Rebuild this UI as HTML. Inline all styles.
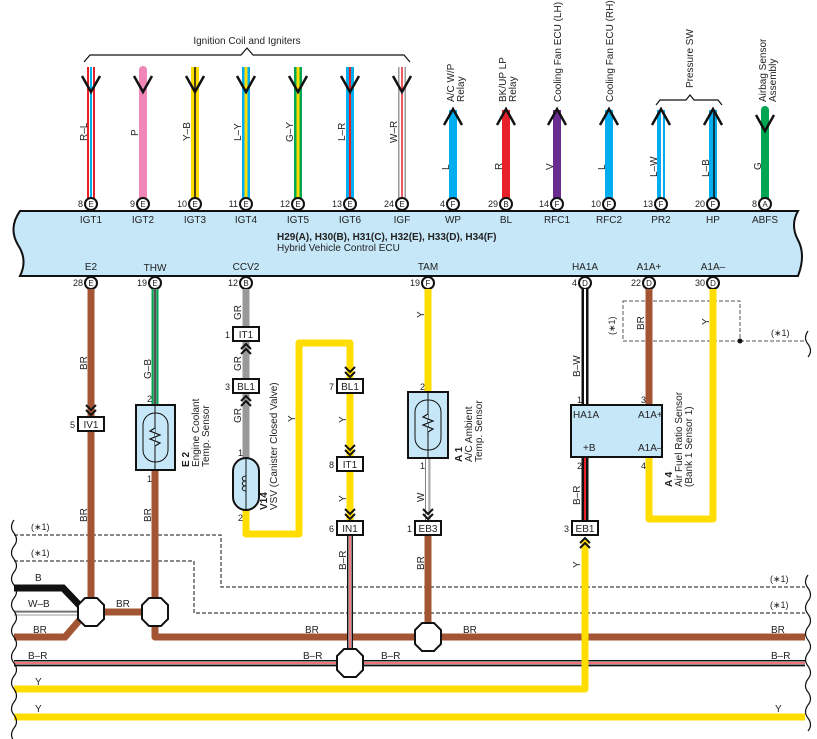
<!DOCTYPE html>
<html><head><meta charset="utf-8"><style>
html,body{margin:0;padding:0;background:#fff;}
svg{display:block;font-family:"Liberation Sans",Arial,sans-serif;}
text{fill:#222;}
</style></head><body>
<svg width="817" height="739" viewBox="0 0 817 739" xmlns="http://www.w3.org/2000/svg">
<defs>
<g id="chevD"><polyline points="-5,-6 0,-1 5,-6" fill="none" stroke="#111" stroke-width="2"/><polyline points="-5,-1 0,4 5,-1" fill="none" stroke="#111" stroke-width="2"/></g>
<g id="chevU"><polyline points="-5,6 0,1 5,6" fill="none" stroke="#111" stroke-width="2"/><polyline points="-5,1 0,-4 5,1" fill="none" stroke="#111" stroke-width="2"/></g>
<polygon id="oct" points="-6,-14 6,-14 13,-7 13,7 6,14 -6,14 -13,7 -13,-7" fill="#fff" stroke="#111" stroke-width="2"/>
</defs>

<text x="247" y="44" font-size="10" text-anchor="middle">Ignition Coil and Igniters</text>
<path d="M84,62 L90,55 L241,55 L247,48 L253,55 L404,55 L410,62" fill="none" stroke="#111" stroke-width="1.2"/>

<g>
<line x1="91" y1="67" x2="91" y2="198" stroke="#e8202a" stroke-width="8"/>
<line x1="91" y1="67" x2="91" y2="198" stroke="#fff" stroke-width="4"/>
<line x1="91" y1="67" x2="91" y2="198" stroke="#00aeef" stroke-width="2"/>
<line x1="143" y1="70" x2="143" y2="198" stroke="#ef86b6" stroke-width="8" stroke-linecap="round"/>
<line x1="195" y1="67" x2="195" y2="198" stroke="#ffdd00" stroke-width="8"/>
<line x1="195" y1="67" x2="195" y2="198" stroke="#111" stroke-width="1.5"/>
<line x1="246" y1="67" x2="246" y2="198" stroke="#00aeef" stroke-width="8"/>
<line x1="246" y1="67" x2="246" y2="198" stroke="#ffdd00" stroke-width="3"/>
<line x1="298" y1="67" x2="298" y2="198" stroke="#00a651" stroke-width="8"/>
<line x1="298" y1="67" x2="298" y2="198" stroke="#ffdd00" stroke-width="3"/>
<line x1="350" y1="67" x2="350" y2="198" stroke="#00aeef" stroke-width="8"/>
<line x1="350" y1="67" x2="350" y2="198" stroke="#e8202a" stroke-width="2"/>
<line x1="402" y1="67" x2="402" y2="198" stroke="#999" stroke-width="8"/>
<line x1="402" y1="67" x2="402" y2="198" stroke="#fff" stroke-width="5"/>
<line x1="402" y1="67" x2="402" y2="198" stroke="#e8202a" stroke-width="1.5"/>
</g>
<g fill="none" stroke="#111" stroke-width="2.5">
<polyline points="82,76 91,92 100,76"/><polyline points="134,76 143,92 152,76"/><polyline points="186,76 195,92 204,76"/>
<polyline points="237,76 246,92 255,76"/><polyline points="289,76 298,92 307,76"/><polyline points="341,76 350,92 359,76"/>
<polyline points="393,76 402,92 411,76"/>
</g>
<g font-size="10">
<text transform="translate(87,141) rotate(-90)">R–L</text>
<text transform="translate(138,136) rotate(-90)">P</text>
<text transform="translate(190,141) rotate(-90)">Y–B</text>
<text transform="translate(241,141) rotate(-90)">L–Y</text>
<text transform="translate(293,142) rotate(-90)">G–Y</text>
<text transform="translate(345,141) rotate(-90)">L–R</text>
<text transform="translate(397,143) rotate(-90)">W–R</text>
</g>

<line x1="453" y1="110" x2="453" y2="198" stroke="#00aeef" stroke-width="8"/>
<line x1="506" y1="110" x2="506" y2="198" stroke="#e8202a" stroke-width="8"/>
<line x1="557" y1="110" x2="557" y2="198" stroke="#6a2c91" stroke-width="8"/>
<line x1="609" y1="110" x2="609" y2="198" stroke="#00aeef" stroke-width="8"/>
<line x1="661" y1="110" x2="661" y2="198" stroke="#00aeef" stroke-width="8"/>
<line x1="662" y1="110" x2="662" y2="198" stroke="#fff" stroke-width="2"/>
<line x1="713" y1="110" x2="713" y2="198" stroke="#00aeef" stroke-width="8"/>
<line x1="714" y1="110" x2="714" y2="198" stroke="#111" stroke-width="1.5"/>
<line x1="765" y1="110" x2="765" y2="198" stroke="#00a651" stroke-width="8" stroke-linecap="round"/>
<g fill="none" stroke="#111" stroke-width="2.5">
<polyline points="444,125 453,109 462,125"/><polyline points="497,125 506,109 515,125"/><polyline points="548,125 557,109 566,125"/>
<polyline points="600,125 609,109 618,125"/><polyline points="652,125 661,109 670,125"/><polyline points="704,125 713,109 722,125"/>
<polyline points="756,115 765,131 774,115"/>
</g>
<path d="M656,105 L660,100 L686,100 L690,95 L694,100 L718,100 L722,105" fill="none" stroke="#111" stroke-width="1.2"/>
<g font-size="10">
<text transform="translate(449,170) rotate(-90)">L</text>
<text transform="translate(502,170) rotate(-90)">R</text>
<text transform="translate(553,170) rotate(-90)">V</text>
<text transform="translate(605,170) rotate(-90)">L</text>
<text transform="translate(657,177) rotate(-90)">L–W</text>
<text transform="translate(709,177) rotate(-90)">L–B</text>
<text transform="translate(761,170) rotate(-90)">G</text>
<text transform="translate(454,102) rotate(-90)">A/C W/P</text>
<text transform="translate(464,102) rotate(-90)">Relay</text>
<text transform="translate(506,102) rotate(-90)">BK/UP LP</text>
<text transform="translate(516,102) rotate(-90)">Relay</text>
<text transform="translate(561,102) rotate(-90)">Cooling Fan ECU (LH)</text>
<text transform="translate(613,102) rotate(-90)">Cooling Fan ECU (RH)</text>
<text transform="translate(693,88) rotate(-90)">Pressure SW</text>
<text transform="translate(766,102) rotate(-90)">Airbag Sensor</text>
<text transform="translate(776,102) rotate(-90)">Assembly</text>
</g>

<path d="M20,211 L798,211 Q790,225 798,240 Q806,255 798,276 L20,276 Q28,260 18,245 Q8,228 20,211 Z" fill="#c6e7f8" stroke="#111" stroke-width="2"/>
<g font-size="10" text-anchor="middle">
<text x="91" y="223">IGT1</text><text x="143" y="223">IGT2</text><text x="195" y="223">IGT3</text><text x="246" y="223">IGT4</text>
<text x="298" y="223">IGT5</text><text x="350" y="223">IGT6</text><text x="402" y="223">IGF</text><text x="453" y="223">WP</text>
<text x="506" y="223">BL</text><text x="557" y="223">RFC1</text><text x="609" y="223">RFC2</text><text x="661" y="223">PR2</text>
<text x="713" y="223">HP</text><text x="765" y="223">ABFS</text>
<text x="91" y="270">E2</text><text x="155" y="271">THW</text><text x="246" y="270">CCV2</text><text x="428" y="270">TAM</text>
<text x="585" y="270">HA1A</text><text x="649" y="270">A1A+</text><text x="713" y="270">A1A–</text>
</g>
<text x="277" y="240" font-size="10" font-weight="bold">H29(A), H30(B), H31(C), H32(E), H33(D), H34(F)</text>
<text x="277" y="251" font-size="10">Hybrid Vehicle Control ECU</text>

<g font-size="9">
<g stroke="#111" stroke-width="2" fill="#fff">
<circle cx="91" cy="204" r="6"/><circle cx="143" cy="204" r="6"/><circle cx="195" cy="204" r="6"/><circle cx="246" cy="204" r="6"/>
<circle cx="298" cy="204" r="6"/><circle cx="350" cy="204" r="6"/><circle cx="402" cy="204" r="6"/><circle cx="453" cy="204" r="6"/>
<circle cx="506" cy="204" r="6"/><circle cx="557" cy="204" r="6"/><circle cx="609" cy="204" r="6"/><circle cx="661" cy="204" r="6"/>
<circle cx="713" cy="204" r="6"/><circle cx="765" cy="204" r="6"/>
<circle cx="91" cy="283" r="6"/><circle cx="155" cy="283" r="6"/><circle cx="246" cy="283" r="6"/><circle cx="428" cy="283" r="6"/>
<circle cx="585" cy="283" r="6"/><circle cx="649" cy="283" r="6"/><circle cx="713" cy="283" r="6"/>
</g>
<g text-anchor="middle" font-size="8">
<text x="91" y="207">E</text><text x="143" y="207">E</text><text x="195" y="207">E</text><text x="246" y="207">E</text>
<text x="298" y="207">E</text><text x="350" y="207">E</text><text x="402" y="207">E</text><text x="453" y="207">F</text>
<text x="506" y="207">B</text><text x="557" y="207">F</text><text x="609" y="207">F</text><text x="661" y="207">F</text>
<text x="713" y="207">F</text><text x="765" y="207">A</text>
<text x="91" y="286">E</text><text x="155" y="286">E</text><text x="246" y="286">B</text><text x="428" y="286">F</text>
<text x="585" y="286">D</text><text x="649" y="286">D</text><text x="713" y="286">D</text>
</g>
<g text-anchor="end">
<text x="83" y="207">8</text><text x="135" y="207">9</text><text x="187" y="207">10</text><text x="238" y="207">11</text>
<text x="290" y="207">12</text><text x="342" y="207">13</text><text x="394" y="207">24</text><text x="445" y="207">4</text>
<text x="498" y="207">29</text><text x="549" y="207">14</text><text x="601" y="207">10</text><text x="653" y="207">13</text>
<text x="705" y="207">20</text><text x="757" y="207">8</text>
<text x="83" y="286">28</text><text x="147" y="286">19</text><text x="238" y="286">12</text><text x="420" y="286">19</text>
<text x="577" y="286">4</text><text x="641" y="286">22</text><text x="705" y="286">30</text>
</g>
</g>

<g fill="none" stroke="#111" stroke-width="1" stroke-dasharray="4,2">
<rect x="623" y="301" width="117" height="40" stroke="#555"/>
<line x1="740" y1="341" x2="805" y2="341" stroke="#555"/>
<polyline points="14,535 221,535 221,587 805,587"/>
<polyline points="14,561 194,561 194,613 805,613"/>
</g>
<circle cx="740" cy="341" r="2.5" fill="#111"/>
<g font-size="9" fill="#444">
<text x="31" y="530">(∗1)</text><text x="31" y="556">(∗1)</text>
<text x="770" y="582">(∗1)</text><text x="770" y="608">(∗1)</text>
<text x="771" y="336">(∗1)</text>
<text transform="translate(615,335) rotate(-90)">(∗1)</text>
</g>

<line x1="91" y1="289" x2="91" y2="612" stroke="#a35432" stroke-width="7"/>
<line x1="155" y1="289" x2="155" y2="405" stroke="#00a651" stroke-width="7"/>
<line x1="155" y1="289" x2="155" y2="405" stroke="#999" stroke-width="3"/>
<line x1="155" y1="289" x2="155" y2="405" stroke="#111" stroke-width="1"/>
<polyline points="155,470 155,637 805,637" fill="none" stroke="#a35432" stroke-width="7" stroke-linejoin="round"/>
<polyline points="14,588 63,588 84,610" fill="none" stroke="#111" stroke-width="7"/>
<line x1="14" y1="613" x2="80" y2="613" stroke="#999" stroke-width="5"/>
<line x1="14" y1="613" x2="80" y2="613" stroke="#fff" stroke-width="3"/>
<line x1="14" y1="612" x2="80" y2="612" stroke="#111" stroke-width="0.7"/>
<polyline points="14,637 65,637 84,615" fill="none" stroke="#a35432" stroke-width="7"/>
<line x1="91" y1="612" x2="155" y2="612" stroke="#a35432" stroke-width="7"/>
<line x1="14" y1="663" x2="805" y2="663" stroke="#111" stroke-width="6"/>
<line x1="14" y1="663" x2="805" y2="663" stroke="#fff" stroke-width="3"/>
<line x1="14" y1="663" x2="805" y2="663" stroke="#e8202a" stroke-width="1.2"/>
<line x1="14" y1="666.5" x2="805" y2="666.5" stroke="#aaa" stroke-width="1"/>
<polyline points="14,689 585,689 585,540" fill="none" stroke="#ffdd00" stroke-width="7" stroke-linejoin="round"/>
<line x1="14" y1="717" x2="805" y2="717" stroke="#ffdd00" stroke-width="7"/>

<line x1="246" y1="289" x2="246" y2="458" stroke="#999" stroke-width="7"/>
<polyline points="246,510 246,534 299,534 299,343 350,343 350,528" fill="none" stroke="#ffdd00" stroke-width="7" stroke-linejoin="round"/>
<line x1="350" y1="535" x2="350" y2="663" stroke="#111" stroke-width="6"/>
<line x1="350" y1="535" x2="350" y2="663" stroke="#fff" stroke-width="3"/>
<line x1="350" y1="535" x2="350" y2="663" stroke="#e8202a" stroke-width="1.2"/>
<line x1="428" y1="289" x2="428" y2="392" stroke="#ffdd00" stroke-width="7"/>
<line x1="428" y1="458" x2="428" y2="522" stroke="#aaa" stroke-width="5"/>
<line x1="427" y1="458" x2="427" y2="522" stroke="#fff" stroke-width="2.5"/>
<line x1="425.5" y1="458" x2="425.5" y2="522" stroke="#555" stroke-width="0.7"/>
<line x1="428" y1="535" x2="428" y2="637" stroke="#a35432" stroke-width="7"/>
<line x1="585" y1="289" x2="585" y2="405" stroke="#111" stroke-width="7"/>
<line x1="585" y1="289" x2="585" y2="405" stroke="#fff" stroke-width="2"/>
<line x1="585" y1="457" x2="585" y2="522" stroke="#111" stroke-width="7"/>
<line x1="585" y1="457" x2="585" y2="522" stroke="#e8202a" stroke-width="2"/>
<line x1="649" y1="289" x2="649" y2="405" stroke="#a35432" stroke-width="7"/>
<polyline points="713,289 713,519 649,519 649,457" fill="none" stroke="#ffdd00" stroke-width="7" stroke-linejoin="round"/>

<g stroke="#111" stroke-width="2" fill="#fff">
<rect x="78" y="417" width="26" height="14"/>
<rect x="233" y="327" width="26" height="14"/>
<rect x="233" y="379" width="26" height="14"/>
<rect x="337" y="379" width="26" height="14"/>
<rect x="337" y="457" width="26" height="14"/>
<rect x="337" y="521" width="26" height="14"/>
<rect x="415" y="521" width="26" height="14"/>
<rect x="572" y="521" width="26" height="14"/>
</g>
<g font-size="10" text-anchor="middle">
<text x="91" y="428">IV1</text><text x="246" y="338">IT1</text><text x="246" y="390">BL1</text>
<text x="350" y="390">BL1</text><text x="350" y="468">IT1</text><text x="350" y="532">IN1</text>
<text x="428" y="532">EB3</text><text x="585" y="532">EB1</text>
</g>
<g font-size="9" text-anchor="end">
<text x="75" y="428">5</text><text x="230" y="338">1</text><text x="230" y="390">3</text>
<text x="334" y="390">7</text><text x="334" y="468">8</text><text x="334" y="532">6</text>
<text x="412" y="532">1</text><text x="569" y="532">3</text>
</g>
<use href="#chevD" x="91" y="411"/>
<use href="#chevU" x="246" y="348"/>
<use href="#chevU" x="246" y="400"/>
<use href="#chevD" x="350" y="373"/>
<use href="#chevD" x="350" y="451"/>
<use href="#chevD" x="350" y="515"/>
<use href="#chevD" x="428" y="515"/>
<use href="#chevU" x="585" y="542"/>

<rect x="136" y="405" width="39" height="65" fill="#c6e7f8" stroke="#111" stroke-width="2"/>
<rect x="143" y="413" width="25" height="49" rx="12" fill="none" stroke="#111" stroke-width="1"/>
<line x1="155" y1="405" x2="155" y2="470" stroke="#111" stroke-width="1"/>
<polyline points="155,428 150,431 160,435 150,439 160,443 155,446" fill="#c6e7f8" stroke="#111" stroke-width="1.2"/>
<rect x="408" y="392" width="40" height="66" fill="#c6e7f8" stroke="#111" stroke-width="2"/>
<rect x="415" y="400" width="26" height="50" rx="12" fill="none" stroke="#111" stroke-width="1"/>
<line x1="428" y1="392" x2="428" y2="458" stroke="#111" stroke-width="1"/>
<polyline points="428,414 423,417 433,421 423,425 433,429 428,432" fill="#c6e7f8" stroke="#111" stroke-width="1.2"/>
<rect x="233" y="458" width="26" height="52" rx="13" fill="#c6e7f8" stroke="#111" stroke-width="2"/>
<line x1="246" y1="458" x2="246" y2="510" stroke="#111" stroke-width="1"/>
<path d="M246,476 c-5,0 -5,5 0,5 c-5,0 -5,5 0,5 c-5,0 -5,5 0,5" fill="none" stroke="#111" stroke-width="1"/>
<rect x="571" y="405" width="91" height="52" fill="#c6e7f8" stroke="#111" stroke-width="2"/>
<g font-size="10">
<text x="573" y="418">HA1A</text><text x="583" y="451">+B</text>
<text x="638" y="418">A1A+</text><text x="638" y="451">A1A–</text>
</g>

<g font-size="9" text-anchor="end">
<text x="152" y="402">2</text><text x="152" y="482">1</text>
<text x="243" y="456">1</text><text x="243" y="521">2</text>
<text x="425" y="390">2</text><text x="425" y="469">1</text>
<text x="582" y="403">1</text><text x="582" y="469">2</text>
<text x="646" y="403">3</text><text x="646" y="469">4</text>
</g>

<g font-size="10">
<text transform="translate(189,467) rotate(-90)" font-weight="bold">E 2</text>
<text transform="translate(199,467) rotate(-90)">Engine Coolant</text>
<text transform="translate(209,467) rotate(-90)">Temp.  Sensor</text>
<text transform="translate(267,510) rotate(-90)" font-weight="bold">V14</text>
<text transform="translate(277,510) rotate(-90)">VSV (Canister Closed Valve)</text>
<text transform="translate(462,462) rotate(-90)" font-weight="bold">A 1</text>
<text transform="translate(472,462) rotate(-90)">A/C Ambient</text>
<text transform="translate(482,462) rotate(-90)">Temp.  Sensor</text>
<text transform="translate(672,487) rotate(-90)" font-weight="bold">A 4</text>
<text transform="translate(682,487) rotate(-90)">Air Fuel Ratio Sensor</text>
<text transform="translate(692,487) rotate(-90)">(Bank 1 Sensor 1)</text>
</g>

<g font-size="10">
<text transform="translate(87,370) rotate(-90)">BR</text>
<text transform="translate(87,522) rotate(-90)">BR</text>
<text transform="translate(151,379) rotate(-90)">G–B</text>
<text transform="translate(151,522) rotate(-90)">BR</text>
<text transform="translate(241,320) rotate(-90)">GR</text>
<text transform="translate(241,371) rotate(-90)">GR</text>
<text transform="translate(241,423) rotate(-90)">GR</text>
<text transform="translate(295,422) rotate(-90)">Y</text>
<text transform="translate(346,423) rotate(-90)">Y</text>
<text transform="translate(346,502) rotate(-90)">Y</text>
<text transform="translate(346,570) rotate(-90)">B–R</text>
<text transform="translate(424,318) rotate(-90)">Y</text>
<text transform="translate(424,502) rotate(-90)">W</text>
<text transform="translate(424,570) rotate(-90)">BR</text>
<text transform="translate(580,377) rotate(-90)">B–W</text>
<text transform="translate(580,505) rotate(-90)">B–R</text>
<text transform="translate(580,568) rotate(-90)">Y</text>
<text transform="translate(644,330) rotate(-90)">BR</text>
<text transform="translate(709,325) rotate(-90)">Y</text>
<text x="35" y="581">B</text><text x="28" y="607">W–B</text><text x="33" y="633">BR</text>
<text x="116" y="607">BR</text>
<text x="305" y="633">BR</text><text x="463" y="633">BR</text><text x="771" y="633">BR</text>
<text x="28" y="659">B–R</text><text x="303" y="659">B–R</text><text x="381" y="659">B–R</text><text x="771" y="659">B–R</text>
<text x="35" y="685">Y</text><text x="35" y="712">Y</text><text x="775" y="712">Y</text>
</g>

<use href="#oct" x="91" y="612"/>
<use href="#oct" x="155" y="612"/>
<use href="#oct" x="428" y="637"/>
<use href="#oct" x="350" y="663"/>

<g fill="none" stroke="#111" stroke-width="1.2">
<path d="M14,520 q-5,7 0,13 q5,7 0,13 q-5,7 0,13 q5,7 0,13 q-5,7 0,13 q5,7 0,13 q-5,7 0,13 q5,7 0,13 q-5,7 0,13 q5,7 0,13 q-5,7 0,13 q5,7 0,13 q-5,7 0,13 q5,7 0,13 q-5,7 0,13 q5,7 0,13 q-5,7 0,13"/>
<path d="M808,575 q-5,7 0,13 q5,7 0,13 q-5,7 0,13 q5,7 0,13 q-5,7 0,13 q5,7 0,13 q-5,7 0,13 q5,7 0,13 q-5,7 0,13 q5,7 0,13 q-5,7 0,13 q5,7 0,13"/>
<path d="M808,331 q-5,7 0,13 q5,7 0,13"/>
</g>
</svg>
</body></html>
